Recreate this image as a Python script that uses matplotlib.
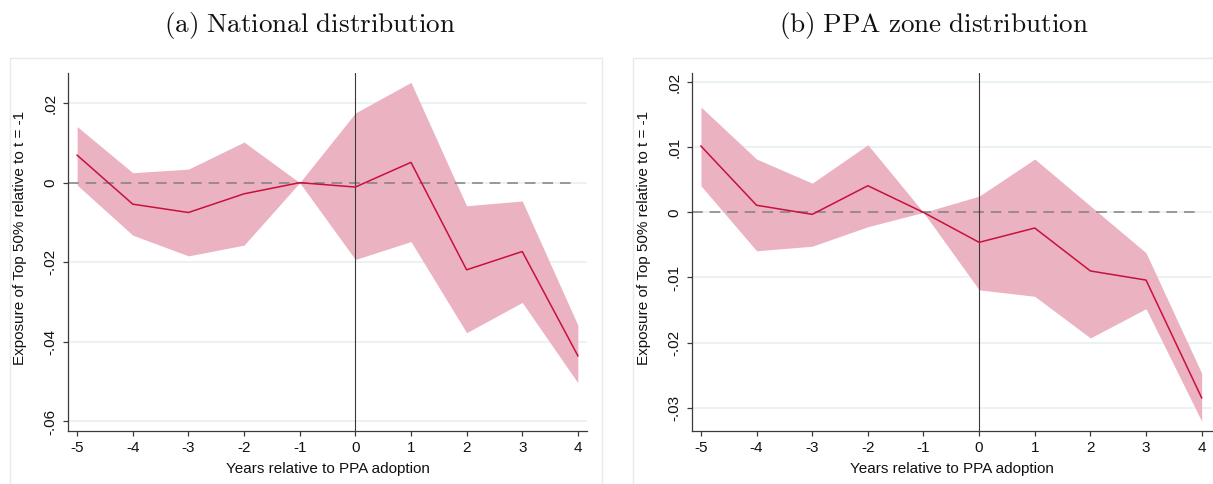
import matplotlib
matplotlib.use("Agg")
import matplotlib.pyplot as plt
from matplotlib.patches import Rectangle

plt.rcParams['font.family'] = ['Liberation Sans', 'DejaVu Sans']
plt.rcParams['mathtext.fontset'] = 'cm'

# Años relativos a la adopción del PPA
years = [-5, -4, -3, -2, -1, 0, 1, 2, 3, 4]

# (a) Distribución nacional
coef_nat = [0.0069, -0.0054, -0.0075, -0.0028, 0.0, -0.0011, 0.0051, -0.0219, -0.0173, -0.0435]
upper_nat = [0.0141, 0.0025, 0.0034, 0.0102, 0.0, 0.0175, 0.0252, -0.0058, -0.0046, -0.0358]
lower_nat = [-0.0006, -0.0132, -0.0184, -0.0157, 0.0, -0.0193, -0.0148, -0.0377, -0.0301, -0.0503]
yticks_nat = [0.02, 0.0, -0.02, -0.04, -0.06]
ylabels_nat = ['.02', '0', '-.02', '-.04', '-.06']

# (b) Distribución por zona PPA
coef_zone = [0.0102, 0.0011, -0.0003, 0.0041, 0.0, -0.0046, -0.0024, -0.0090, -0.0104, -0.0285]
upper_zone = [0.0162, 0.0082, 0.0045, 0.0104, 0.0, 0.0025, 0.0082, 0.0010, -0.0062, -0.0247]
lower_zone = [0.0041, -0.0059, -0.0052, -0.0022, 0.0, -0.0119, -0.0129, -0.0193, -0.0148, -0.0321]
yticks_zone = [0.02, 0.01, 0.0, -0.01, -0.02, -0.03]
ylabels_zone = ['.02', '.01', '0', '-.01', '-.02', '-.03']

titles = [r'$\mathrm{(a)\ National\ distribution}$', r'$\mathrm{(b)\ PPA\ zone\ distribution}$']

color_linea = '#c8103c'
color_banda = '#ebb3c1'
color_grid = '#e8f0f1'
color_eje = '#3a3a3a'

fig = plt.figure(figsize=(12.13, 4.84), dpi=100)
fig.patch.set_facecolor('white')

# marcos de cada panel
fig.patches.append(Rectangle((0.0082, -0.05), 0.488, 0.93, transform=fig.transFigure,
                             fill=False, edgecolor='#e3ebed', lw=1.0))
fig.patches.append(Rectangle((0.5218, -0.05), 0.55, 0.93, transform=fig.transFigure,
                             fill=False, edgecolor='#e3ebed', lw=1.0))

ax_a = fig.add_axes([0.0558, 0.1095, 0.4284, 0.7397])
ax_b = fig.add_axes([0.5702, 0.1095, 0.4287, 0.7397])

paneles = [
    (ax_a, coef_nat, upper_nat, lower_nat, yticks_nat, ylabels_nat, (-0.0624, 0.02756), (-5.17, 4.17)),
    (ax_b, coef_zone, upper_zone, lower_zone, yticks_zone, ylabels_zone, (-0.0336, 0.02143), (-5.167, 4.18)),
]

for i, (ax, coef, up, lo, yt, ylab, ylim, xlim) in enumerate(paneles):
    ax.set_xlim(*xlim)
    ax.set_ylim(*ylim)
    ax.set_yticks(yt)
    ax.set_yticklabels(ylab, rotation=90, va='center')
    ax.set_xticks(years)
    ax.set_xticklabels([str(y) for y in years])

    ax.yaxis.grid(True, color=color_grid, lw=1.2, zorder=0)
    ax.set_axisbelow(True)

    ax.fill_between(years, lo, up, color=color_banda, lw=0, zorder=1)
    ax.plot(years, coef, color=color_linea, lw=1.1, zorder=3)

    ax.axhline(0, xmin=0, xmax=0.98, color='#808080', lw=1.1, dashes=(7, 4.5), zorder=2)
    ax.axvline(0, color=color_eje, lw=0.8, zorder=2)

    for s in ['top', 'right']:
        ax.spines[s].set_visible(False)
    for s in ['left', 'bottom']:
        ax.spines[s].set_color(color_eje)
        ax.spines[s].set_linewidth(0.9)
    ax.tick_params(axis='both', direction='out', length=3.6, width=0.9, color=color_eje,
                   labelsize=11, labelcolor='#111111', pad=3.5)

    ax.set_xlabel('Years relative to PPA adoption', fontsize=11, color='#111111', labelpad=5)
    ax.set_ylabel('Exposure of Top 50% relative to t = -1', fontsize=11, color='#111111')
    ax.yaxis.set_label_coords(-0.079, 0.54)

# títulos centrados sobre cada marco
fig.text(310 / 1213, 0.948, titles[0], fontsize=19.5, color='#111111', ha='center', va='center')
fig.text(934 / 1213, 0.948, titles[1], fontsize=19.5, color='#111111', ha='center', va='center')

fig.savefig('out.png', dpi=100, facecolor='white')
